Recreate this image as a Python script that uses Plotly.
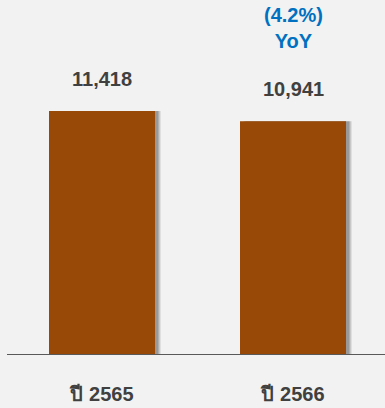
import plotly.graph_objects as go

categories = ["ปี 2565", "ปี 2566"]
values = [11418, 10941]
value_labels = ["11,418", "10,941"]
yoy_label = ["(4.2%)", "YoY"]

BAR_COLOR = "#984807"
BG = "#f2f2f2"
TEXT = "#404040"
BLUE = "#0070c0"
FONT = "Liberation Sans, Arial, sans-serif"

xs = list(range(len(categories)))
bw = 0.555
px = 1 / 191.0  # data units per pixel (x)

fig = go.Figure()
# soft shadow layers
for dx, op in [(6, 0.08), (5, 0.10), (4, 0.12), (3, 0.12)]:
    fig.add_trace(go.Bar(x=xs, y=values, width=bw, offset=-bw / 2 + dx * px,
                         marker=dict(color=f"rgba(0,0,0,{op})", line=dict(width=0)),
                         hoverinfo="skip", showlegend=False))
fig.add_trace(go.Bar(x=xs, y=values, width=bw, offset=-bw / 2,
                     marker=dict(color=BAR_COLOR, line=dict(width=0)),
                     showlegend=False))

for x, v, lab in zip(xs, values, value_labels):
    fig.add_annotation(x=x, y=v, xref="x", yref="y", text=f"<b>{lab}</b>",
                       showarrow=False, yanchor="middle", yshift=32,
                       font=dict(family=FONT, size=20, color=TEXT))

fig.add_annotation(x=xs[1], y=values[1], xref="x", yref="y",
                   text="<br>".join(f"<b>{t}</b>" for t in yoy_label),
                   showarrow=False, yanchor="middle", yshift=93,
                   font=dict(family=FONT, size=20, color=BLUE))

fig.update_layout(
    width=385, height=408,
    margin=dict(l=7, r=0, t=0, b=54),
    paper_bgcolor=BG, plot_bgcolor=BG,
    barmode="overlay",
    xaxis=dict(range=[-95 / 191, 1 + 92 / 191], tickvals=xs,
               ticktext=[f"<b>{c}</b>" for c in categories],
               tickfont=dict(family=FONT, size=20, color=TEXT),
               showline=True, linecolor="#595959", linewidth=1,
               showgrid=False, zeroline=False, ticks="", ticklabelstandoff=22,
               fixedrange=True),
    yaxis=dict(range=[0, 16635], visible=False, fixedrange=True),
)

fig.write_html("out.html")
